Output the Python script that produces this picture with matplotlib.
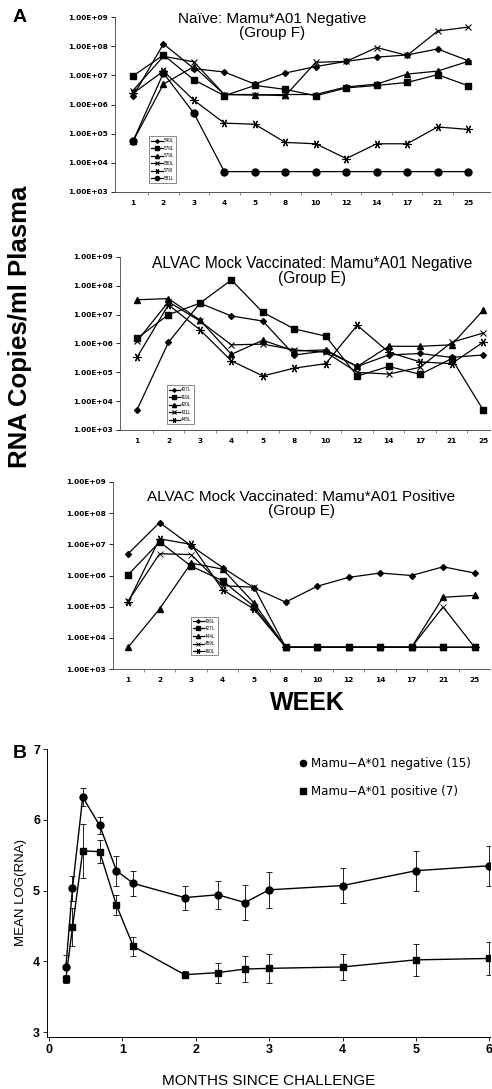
import matplotlib
matplotlib.use("Agg")
import matplotlib.pyplot as plt
from matplotlib.lines import Line2D
import numpy as np

plt.rcParams['font.family'] = ['Liberation Sans', 'DejaVu Sans']

# --- panel A data (RNA copies / ml plasma) ---
weeks = ['1', '2', '3', '4', '5', '8', '10', '12', '14', '17', '21', '25']
ytick_vals = [1e3, 1e4, 1e5, 1e6, 1e7, 1e8, 1e9]
ytick_labels = ['1.00E+03', '1.00E+04', '1.00E+05', '1.00E+06', '1.00E+07', '1.00E+08', '1.00E+09']

# Naive, group F
g1_names = ['540L', '576L', '579L', '580L', '578l', '581L']
g1_540L = [1.9e6, 1.2e8, 1.7e7, 1.3e7, 5e6, 1.2e7, 2e7, 3e7, 4.2e7, 5e7, 8e7, 3.2e7]
g1_576L = [9.5e6, 5e7, 7e6, 2e6, 4.5e6, 3.3e6, 2e6, 3.7e6, 4.5e6, 5.7e6, 1.05e7, 4.4e6]
g1_579L = [5.5e4, 5e6, 2e7, 2.2e6, 2.1e6, 2.2e6, 2.2e6, 4e6, 5e6, 1.1e7, 1.4e7, 3e7]
g1_580L = [3e6, 4.5e7, 2.9e7, 2.2e6, 2.2e6, 2e6, 2.8e7, 3e7, 9e7, 4.8e7, 3.3e8, 4.5e8]
g1_578l = [2.4e6, 1.4e7, 1.4e6, 2.3e5, 2.1e5, 5e4, 4.5e4, 1.4e4, 4.5e4, 4.5e4, 1.7e5, 1.4e5]
g1_581L = [5.5e4, 1.2e7, 5e5, 5e3, 5e3, 5e3, 5e3, 5e3, 5e3, 5e3, 5e3, 5e3]

# ALVAC mock, Mamu*A01 negative, group E
g2_names = ['407L', '419L', '420L', '431L', '445L']
g2_407L = [5e3, 1.1e6, 2.5e7, 9e6, 6e6, 4e5, 5.5e5, 1.6e5, 4e5, 4.5e5, 3.3e5, 4e5]
g2_419L = [1.5e6, 1e7, 2.5e7, 1.6e8, 1.2e7, 3.2e6, 1.8e6, 7.4e4, 1.6e5, 8.5e4, 3e5, 5e3]
g2_420L = [3.3e7, 3.6e7, 6.5e6, 4.2e5, 1.3e6, 5.5e5, 6e5, 1.6e5, 8e5, 8e5, 9e5, 1.4e7]
g2_431L = [1.2e6, 2.8e7, 6e6, 9e5, 9.5e5, 6e5, 5e5, 1e5, 8.7e4, 1.5e5, 1.1e6, 2.3e6]
g2_445L = [3.3e5, 2.2e7, 3e6, 2.5e5, 7.5e4, 1.4e5, 2e5, 4.3e6, 5e5, 2.3e5, 2e5, 1.1e6]

# ALVAC mock, Mamu*A01 positive, group E
g3_names = ['406L', '427L', '444L', '459L', '460L']
g3_406L = [5e6, 5e7, 9e6, 1.8e6, 4e5, 1.4e5, 4.5e5, 8.7e5, 1.2e6, 1e6, 1.9e6, 1.2e6]
g3_427L = [1.05e6, 1.2e7, 2e6, 6.8e5, 1e5, 5e3, 5e3, 5e3, 5e3, 5e3, 5e3, 5e3]
g3_444L = [5e3, 8.5e4, 2.5e6, 1.6e6, 1.3e5, 5e3, 5e3, 5e3, 5e3, 5e3, 2e5, 2.3e5]
g3_459L = [1.5e5, 5e6, 4.7e6, 4.7e5, 4.2e5, 5e3, 5e3, 5e3, 5e3, 5e3, 9.8e4, 5e3]
g3_460L = [1.4e5, 1.5e7, 1e7, 3.5e5, 8.3e4, 5e3, 5e3, 5e3, 5e3, 5e3, 5e3, 5e3]

# --- panel B data (mean log RNA) ---
months = [0.23, 0.32, 0.46, 0.69, 0.92, 1.15, 1.85, 2.30, 2.67, 3.0, 4.0, 5.0, 6.0]
neg_mean = [3.92, 5.03, 6.32, 5.92, 5.28, 5.10, 4.90, 4.94, 4.83, 5.01, 5.07, 5.28, 5.35]
neg_err = [0.17, 0.18, 0.13, 0.12, 0.21, 0.18, 0.17, 0.20, 0.25, 0.25, 0.25, 0.28, 0.28]
pos_mean = [3.75, 4.48, 5.56, 5.55, 4.79, 4.21, 3.81, 3.84, 3.89, 3.90, 3.92, 4.02, 4.04]
pos_err = [0.05, 0.27, 0.38, 0.16, 0.14, 0.14, 0.05, 0.14, 0.18, 0.20, 0.18, 0.23, 0.23]

W, H = 492, 1089
fig = plt.figure(figsize=(W / 100, H / 100), dpi=100)


def box(l, r, t, b):
    return [l / W, 1 - b / H, (r - l) / W, (b - t) / H]


star6 = (6, 2, 30)
styles_A = {
    'D': dict(marker='D', ms=3),
    's': dict(marker='s', ms=5),
    '^': dict(marker='^', ms=5),
    '+': dict(marker='x', ms=5, mew=0.8),
    '*': dict(marker=star6, ms=6, mew=0.8),
    'o': dict(marker='o', ms=5),
    'x': dict(marker='x', ms=5, mew=0.6),
}
tick_font = dict(family='DejaVu Sans', weight='bold')


def week_panel(rect, xlim, series, names, marks, title, leg_anchor):
    ax = fig.add_axes(rect)
    x = np.arange(len(weeks))
    for vals, name, m in zip(series, names, marks):
        ax.plot(x, vals, color='black', lw=0.9, label=name, **styles_A[m])
    ax.set_yscale('log')
    ax.set_ylim(1e3, 1e9)
    ax.set_xlim(*xlim)
    ax.set_yticks(ytick_vals)
    ax.set_yticklabels(ytick_labels, fontdict=dict(tick_font, size=5.3))
    ax.yaxis.set_minor_locator(matplotlib.ticker.NullLocator())
    ax.set_xticks(x)
    ax.set_xticklabels(weeks, fontdict=dict(tick_font, size=5.3))
    ax.set_xticks(x[:-1] + 0.5, minor=True)
    ax.tick_params(axis='y', length=3, width=0.6, pad=2)
    ax.tick_params(axis='x', which='major', length=0, pad=6)
    ax.tick_params(axis='x', which='minor', length=2, width=0.5, color='#555555')
    for s in ['top', 'right']:
        ax.spines[s].set_visible(False)
    ax.spines['left'].set_linewidth(0.6)
    ax.spines['left'].set_color('#444444')
    ax.spines['bottom'].set_linestyle((0, (1.5, 1)))
    ax.spines['bottom'].set_linewidth(0.7)
    ax.spines['bottom'].set_color('#555555')
    ax.text(0.5 + title[2], title[3], title[0] + '\n' + title[1], transform=ax.transAxes,
            ha='center', va='top', fontsize=title[4], linespacing=1.0)
    leg = ax.legend(loc='lower left', bbox_to_anchor=leg_anchor, fontsize=3.3,
                    frameon=True, fancybox=False, edgecolor='#333333', borderpad=0.4,
                    labelspacing=0.55, handlelength=2.6, handletextpad=0.2, markerscale=0.6)
    leg.get_frame().set_linewidth(0.5)
    return ax


week_panel(box(115, 490, 17, 192), (-0.59, 11.72),
           [g1_540L, g1_576L, g1_579L, g1_580L, g1_578l, g1_581L], g1_names,
           ['D', 's', '^', '+', '*', 'o'],
           ('Naïve: Mamu*A01 Negative', '(Group F)', -0.08, 1.03, 11), (0.085, 0.04))

week_panel(box(120, 490, 257, 430), (-0.54, 11.22),
           [g2_407L, g2_419L, g2_420L, g2_431L, g2_445L], g2_names,
           ['D', 's', '^', '+', '*'],
           ('ALVAC Mock Vaccinated: Mamu*A01 Negative', '(Group E)', 0.02, 1.005, 11.2), (0.12, 0.02))

week_panel(box(113, 490, 482, 669), (-0.48, 11.49),
           [g3_406L, g3_427L, g3_444L, g3_459L, g3_460L], g3_names,
           ['D', 's', '^', 'x', '*'],
           ('ALVAC Mock Vaccinated: Mamu*A01 Positive', '(Group E)', 0.0, 0.955, 11), (0.2, 0.06))

fig.text(20 / W, 1 - 327 / H, 'RNA Copies/ml Plasma', rotation=90, ha='center', va='center',
         fontsize=18.5, fontweight='bold')
fig.text(307 / W, 1 - 703 / H, 'WEEK', ha='center', va='center', fontsize=18, fontweight='bold')
fig.text(20 / W, 1 - 17 / H, 'A', ha='center', va='center', fontsize=14, fontweight='bold')
fig.text(20 / W, 1 - 753 / H, 'B', ha='center', va='center', fontsize=14, fontweight='bold')

# --- panel B ---
axb = fig.add_axes(box(47, 490, 749, 1037))
axb.errorbar(months, neg_mean, yerr=neg_err, color='black', lw=1.0, marker='o', ms=5,
             capsize=2, elinewidth=0.6, capthick=0.6, label='Mamu\u2212A*01 negative (15)')
axb.errorbar(months, pos_mean, yerr=pos_err, color='black', lw=1.0, marker='s', ms=5,
             capsize=2, elinewidth=0.6, capthick=0.6, label='Mamu\u2212A*01 positive (7)')
axb.set_xlim(-0.027, 6.01)
axb.set_ylim(2.93, 7.0)
axb.set_xticks(range(0, 7))
axb.set_yticks(range(3, 8))
axb.tick_params(labelsize=9, length=3, width=0.6, pad=2)
for lab in axb.get_xticklabels() + axb.get_yticklabels():
    lab.set_fontweight('bold')
for s in ['top', 'right']:
    axb.spines[s].set_visible(False)
axb.spines['left'].set_linewidth(0.7)
axb.spines['bottom'].set_linewidth(0.7)
narrow = ['Liberation Sans Narrow', 'Liberation Sans', 'DejaVu Sans']
axb.set_xlabel('MONTHS SINCE CHALLENGE', fontsize=11, labelpad=13, family=narrow)
axb.set_ylabel('MEAN LOG(RNA)', fontsize=9.5, labelpad=4, family=narrow)
handles, labels = axb.get_legend_handles_labels()
h2 = [Line2D([], [], ls='none', marker='o', color='black', ms=4.5),
      Line2D([], [], ls='none', marker='s', color='black', ms=4.5)]
axb.legend(h2, labels, loc='upper left', bbox_to_anchor=(0.545, 1.01), frameon=False,
           prop=dict(family='DejaVu Sans', size=8.6), handlelength=0.6, handletextpad=0.4,
           labelspacing=1.25)

fig.savefig('out.png', dpi=100)
